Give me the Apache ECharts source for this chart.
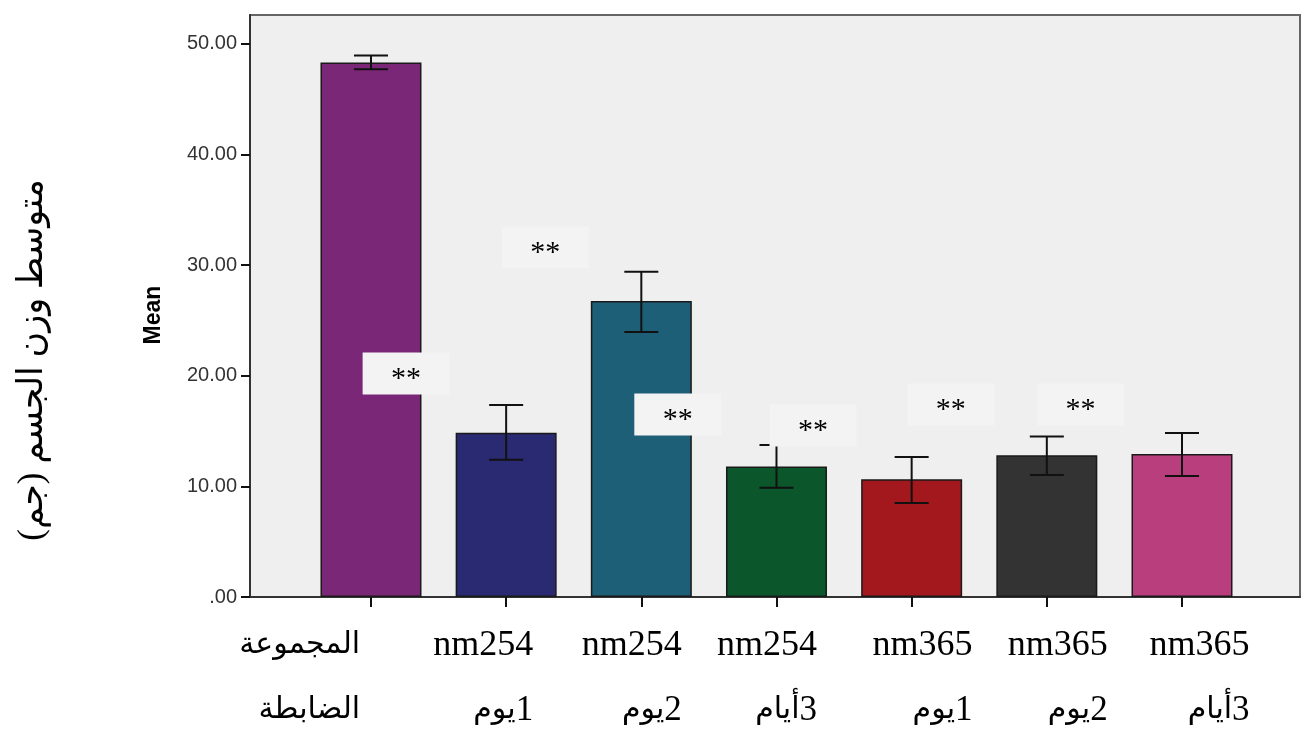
<!DOCTYPE html>
<html>
<head>
<meta charset="utf-8">
<script src="https://cdn.jsdelivr.net/npm/echarts@6/dist/echarts.min.js"></script>
<style>
  html, body { margin: 0; padding: 0; background: #fff; }
  #chart { width: 1302px; height: 731px; }
</style>
</head>
<body>
<div id="chart"></div>
<script>
// 分组名称（两行）
const line1 = ['المجموعة', 'nm254', 'nm254', 'nm254', 'nm365', 'nm365', 'nm365'];
const line2Text = ['الضابطة', 'يوم', 'يوم', 'أيام', 'يوم', 'يوم', 'أيام'];
const line2Num = ['', '1', '2', '3', '1', '2', '3'];
// 均值与误差范围
const means = [48.3, 14.85, 26.76, 11.8, 10.64, 12.8, 12.93];
const upper = [48.95, 17.36, 29.39, 13.74, 12.66, 14.5, 14.83];
const lower = [47.7, 12.4, 23.96, 9.88, 8.5, 11.03, 10.94];
const colors = ['#7B2778', '#2A2A72', '#1D5F76', '#0C562C', '#A3181C', '#333333', '#B93E7E'];
// ** 标注 [x, y]
const stars = [[0.26, 20.2], [1.29, 31.6], [2.27, 16.5], [3.27, 15.5], [4.29, 17.4], [5.25, 17.4]];
const yTicks = [0, 10, 20, 30, 40, 50];
const catIdx = [0, 1, 2, 3, 4, 5, 6];
// 文本右对齐位置
const labelPos = [-0.08, 1.2, 2.3, 3.3, 4.45, 5.45, 6.5];

const chart = echarts.init(document.getElementById('chart'));

const option = {
  animation: false,
  grid: {
    left: 250,
    right: 2,
    top: 15,
    bottom: 134,
    outerBoundsMode: 'none',
    containLabel: false,
    show: true,
    backgroundColor: '#efefef',
    borderColor: '#666',
    borderWidth: 2
  },
  xAxis: {
    type: 'value',
    min: -0.895,
    max: 6.873,
    splitLine: { show: false },
    axisLine: { show: true, onZero: false, lineStyle: { color: '#333', width: 2 } },
    axisTick: {
      show: true,
      customValues: catIdx,
      length: 10,
      lineStyle: { color: '#111', width: 2 }
    },
    axisLabel: {
      customValues: labelPos,
      align: 'right',
      margin: 16,
      color: '#000',
      formatter: function (v) {
        let i = labelPos.findIndex(p => Math.abs(p - v) < 1e-6);
        if (i < 0) return '';
        let a = i === 0 ? 'ar' : 'lat';
        let s = '{' + a + '|' + line1[i] + '}\n{ar|' + line2Text[i] + '}';
        if (line2Num[i]) s += '{num|' + line2Num[i] + '}';
        return s;
      },
      rich: {
        lat: {
          fontSize: 36,
          lineHeight: 65,
          fontFamily: '"Liberation Serif", serif',
          color: '#000'
        },
        ar: {
          fontSize: 30,
          lineHeight: 65,
          fontFamily: '"Liberation Serif", "DejaVu Sans", serif',
          color: '#000'
        },
        num: {
          fontSize: 35,
          lineHeight: 65,
          fontFamily: '"Liberation Serif", serif',
          color: '#000'
        }
      }
    }
  },
  yAxis: {
    type: 'value',
    min: 0,
    max: 52.6,
    name: 'Mean',
    nameLocation: 'middle',
    nameGap: 85,
    nameTextStyle: {
      fontSize: 23,
      fontWeight: 'bold',
      fontFamily: '"Liberation Sans", Arial, sans-serif',
      color: '#000',
      padding: [0, 18, 0, 0]
    },
    splitLine: { show: false },
    axisLine: { show: true, onZero: false, lineStyle: { color: '#333', width: 2 } },
    axisTick: {
      show: true,
      customValues: yTicks,
      length: 9,
      lineStyle: { color: '#111', width: 2 }
    },
    axisLabel: {
      customValues: yTicks,
      margin: 13,
      fontSize: 20,
      fontFamily: '"Liberation Sans", Arial, sans-serif',
      color: '#333',
      formatter: v => v === 0 ? '.00' : v.toFixed(2)
    }
  },
  graphic: [{
    type: 'text',
    x: 33,
    y: 360,
    rotation: Math.PI / 2,
    style: {
      text: '\u200Fمتوسط وزن الجسم (جم)\u200F',
      font: '35px "Liberation Serif", "DejaVu Sans", serif',
      fill: '#000',
      align: 'center',
      verticalAlign: 'middle'
    }
  }],
  series: [
    {
      type: 'bar',
      barWidth: 101,
      z: 2,
      data: means.map((v, i) => ({
        value: [i, v],
        itemStyle: { color: colors[i] }
      })),
      itemStyle: { borderColor: '#1a1a1a', borderWidth: 1.5 }
    },
    {
      type: 'custom',
      z: 3,
      data: catIdx.map(i => [i, lower[i], upper[i]]),
      renderItem: function (params, api) {
        const x = api.value(0);
        const lo = api.coord([x, api.value(1)]);
        const hi = api.coord([x, api.value(2)]);
        const half = 17;
        const style = { stroke: '#111', lineWidth: 2 };
        return {
          type: 'group',
          children: [
            { type: 'line', shape: { x1: lo[0], y1: lo[1], x2: hi[0], y2: hi[1] }, style },
            { type: 'line', shape: { x1: hi[0] - half, y1: hi[1], x2: hi[0] + half, y2: hi[1] }, style },
            { type: 'line', shape: { x1: lo[0] - half, y1: lo[1], x2: lo[0] + half, y2: lo[1] }, style }
          ]
        };
      }
    },
    {
      type: 'scatter',
      z: 4,
      symbol: 'rect',
      symbolSize: [87, 42],
      itemStyle: { color: '#f3f3f3', opacity: 1 },
      label: {
        show: true,
        position: 'inside',
        formatter: '**',
        fontSize: 30,
        fontFamily: '"Liberation Serif", serif',
        color: '#000',
        offset: [0, 6]
      },
      data: stars
    }
  ]
};

chart.setOption(option);
</script>
</body>
</html>
